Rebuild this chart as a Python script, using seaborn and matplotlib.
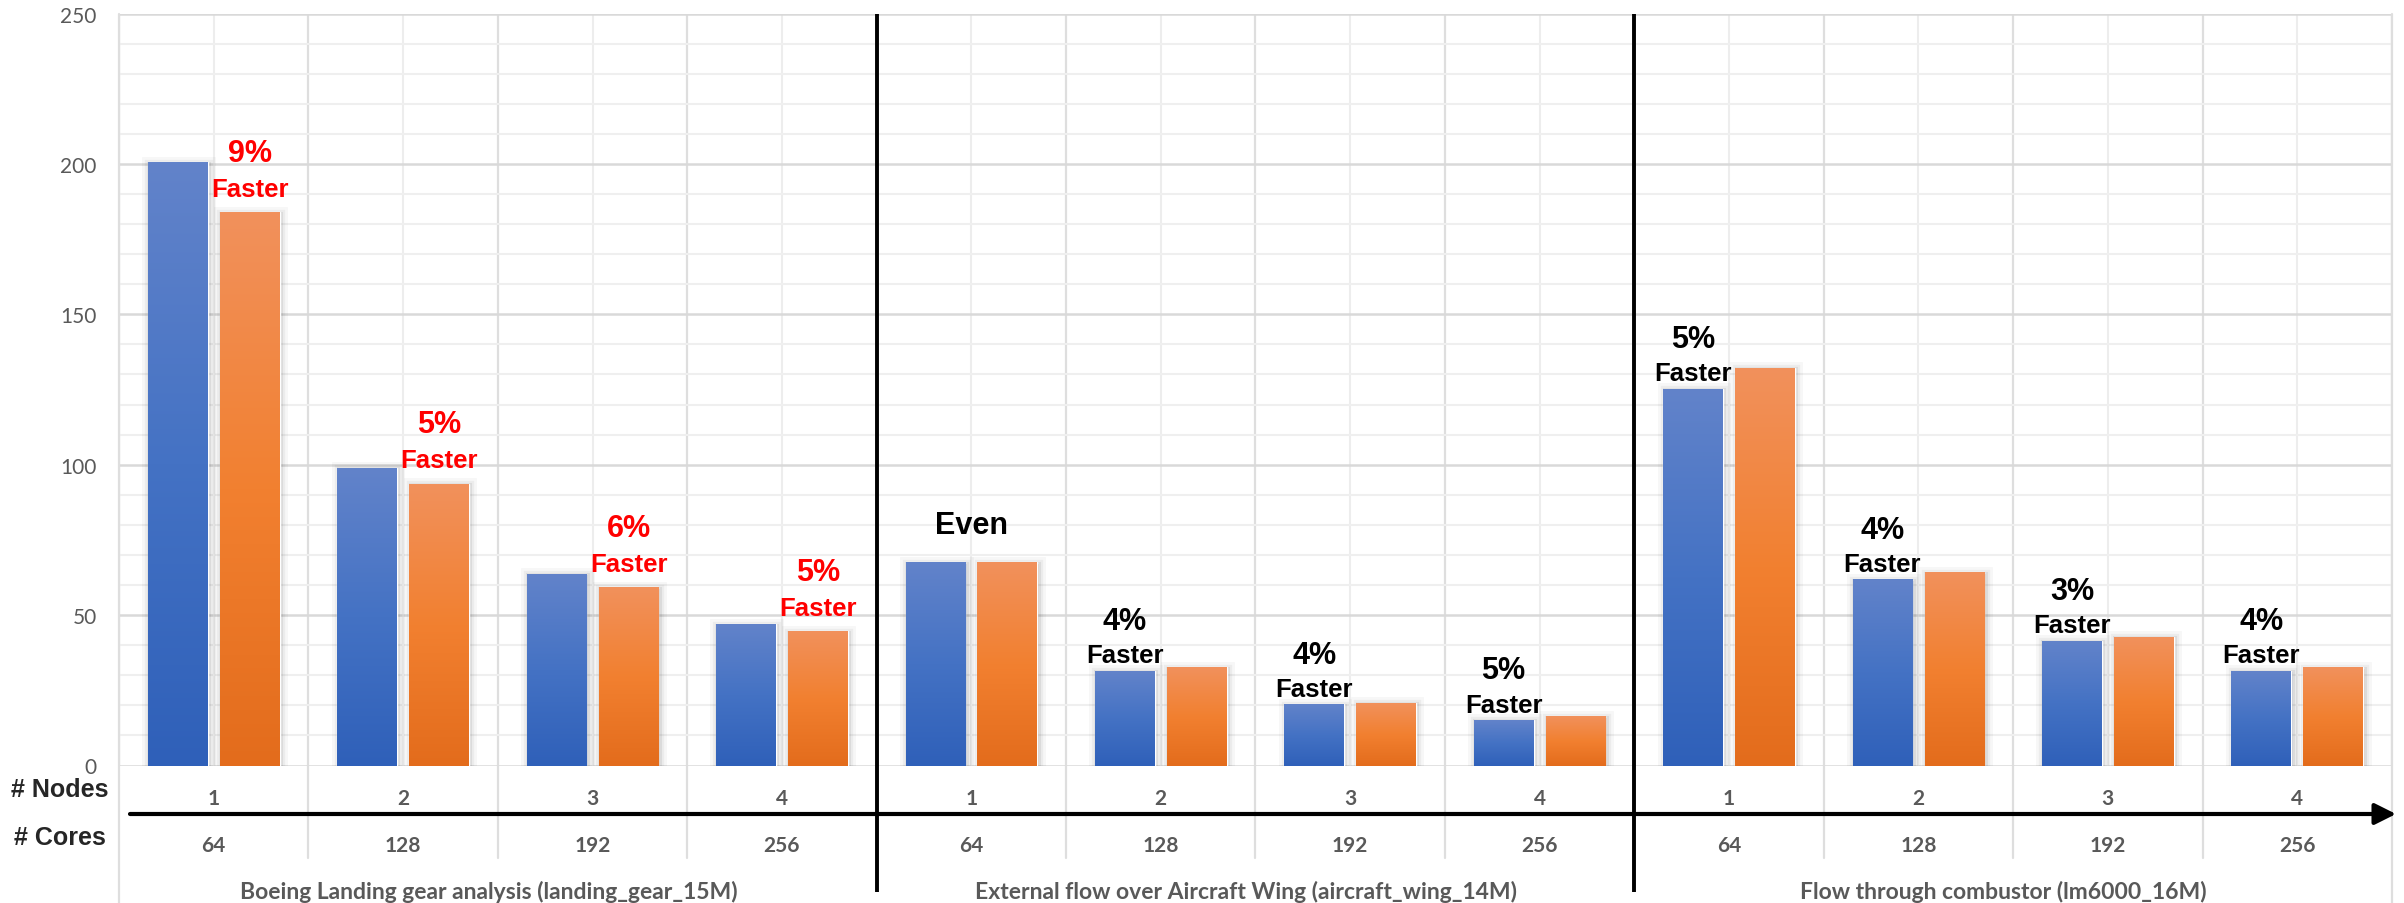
import numpy as np
import pandas as pd
import matplotlib
matplotlib.use("Agg")
import matplotlib.pyplot as plt
import seaborn as sns
from matplotlib import patheffects as pe
from matplotlib.colors import LinearSegmentedColormap
from matplotlib.transforms import blended_transform_factory

# ---- data -------------------------------------------------------------
cases = [
    "Boeing Landing gear analysis (landing_gear_15M)",
    "External flow over Aircraft Wing (aircraft_wing_14M)",
    "Flow through combustor (lm6000_16M)",
]
nodes = ["1", "2", "3", "4"]
cores = ["64", "128", "192", "256"]
series = ["System A", "System B"]
time_a = [200.5, 99.0, 63.8, 46.9, 67.6, 31.5, 20.4, 15.2, 125.3, 61.9, 41.5, 31.5]
time_b = [183.9, 93.6, 59.2, 44.6, 67.6, 32.7, 20.9, 16.3, 132.2, 64.2, 42.8, 32.7]
gain_labels = ["9%", "5%", "6%", "5%", "Even", "4%", "4%", "5%", "5%", "4%", "3%", "4%"]

slots = [f"{c}|{n}" for c in cases for n in nodes]
df = pd.DataFrame({
    "slot": slots * 2,
    "system": [series[0]] * len(slots) + [series[1]] * len(slots),
    "time": time_a + time_b,
})

# ---- style ------------------------------------------------------------
sns.set_style("white")
plt.rcParams["font.family"] = ["Lato", "DejaVu Sans"]
GRAY_TXT = "#595959"
BLUE_STOPS = ["#6283ca", "#4472c4", "#2f60b9"]
ORANGE_STOPS = ["#f1915c", "#f28030", "#e36c1c"]

W, H, DPI = 24.04, 9.04, 100
fig = plt.figure(figsize=(W, H), dpi=DPI)
px_l, px_r, px_top, px_zero = 119, 2392, 14.5, 766.5
ax = fig.add_axes([px_l / 2404, 1 - px_zero / 904,
                   (px_r - px_l) / 2404, (px_zero - px_top) / 904])

sns.barplot(data=df, x="slot", y="time", hue="system", order=slots,
            hue_order=series, palette=[BLUE_STOPS[1], ORANGE_STOPS[1]],
            saturation=1, width=0.76, gap=0.17, errorbar=None,
            legend=False, ax=ax)

n = len(slots)

# gradient fill and soft shadow for every bar
for container, stops in zip(ax.containers, [BLUE_STOPS, ORANGE_STOPS]):
    cmap = LinearSegmentedColormap.from_list("bar", stops)
    for patch in container:
        patch.set_path_effects([pe.Stroke(linewidth=10, foreground="black", alpha=0.03, offset=(1, -1)),
                                pe.Stroke(linewidth=6, foreground="black", alpha=0.045, offset=(1, -1)),
                                pe.Stroke(linewidth=3, foreground="black", alpha=0.07, offset=(1, -1)),
                                pe.Normal()])
        x0, y0 = patch.get_x(), patch.get_y()
        w, h = patch.get_width(), patch.get_height()
        grad = np.linspace(0, 1, 256).reshape(-1, 1)
        im = ax.imshow(grad, cmap=cmap, aspect="auto", origin="upper",
                       extent=(x0, x0 + w, y0, y0 + h),
                       zorder=patch.get_zorder() + 0.1, interpolation="bilinear")
        im.set_clip_path(patch)

ax.set_xlim(-0.5, n - 0.5)
ax.set_ylim(0, 250)
ax.set_aspect("auto")

# ---- grid -------------------------------------------------------------
ax.set_yticks(range(0, 251, 50))
ax.set_yticks(range(0, 251, 10), minor=True)
ax.set_xticks(range(n))
ax.set_xticks(np.arange(-0.5, n, 1), minor=True)
ax.set_xticklabels([])
ax.set_xlabel("")
ax.set_ylabel("")
ax.grid(which="major", axis="y", color="#d9d9d9", lw=1.8)
ax.grid(which="minor", axis="y", color="#efefef", lw=1.5)
ax.grid(which="major", axis="x", color="#ededed", lw=1.5)
ax.grid(which="minor", axis="x", color="#dedede", lw=1.6)
ax.set_axisbelow(True)
ax.tick_params(which="both", length=0)
ax.tick_params(axis="y", labelsize=15, labelcolor=GRAY_TXT, pad=16)
for s in ax.spines.values():
    s.set_visible(False)

bt = blended_transform_factory(ax.transData, ax.transAxes)
frac = lambda px: (px_zero - px) / (px_zero - px_top)

# separators in the label rows
for i in range(1, n):
    if i % 4 == 0:
        continue
    b = i - 0.5
    ax.plot([b, b], [0, frac(859)], transform=bt, color="#dedede", lw=1.6, clip_on=False)
for b in (-0.5, n - 0.5):
    ax.plot([b, b], [1, frac(904)], transform=bt, color="#dedede", lw=1.6, clip_on=False)

# black dividers between the three cases
for g in range(1, len(cases)):
    b = 4 * g - 0.5
    ax.plot([b, b], [1, frac(893)], transform=bt, color="black", lw=2.8,
            clip_on=False, zorder=6, solid_capstyle="butt")

# arrow between the nodes and cores rows
ax.annotate("", xy=((2396 - px_l) / (px_r - px_l), frac(815)),
            xytext=((130 - px_l) / (px_r - px_l), frac(815)),
            xycoords="axes fraction", annotation_clip=False,
            arrowprops=dict(arrowstyle="-|>", lw=3.0, color="black",
                            mutation_scale=32, shrinkA=0, shrinkB=0))

# category labels
for i in range(n):
    ax.text(i, frac(799), nodes[i % 4], transform=bt, ha="center", va="center",
            fontsize=15, fontweight="bold", color=GRAY_TXT)
    ax.text(i, frac(846), cores[i % 4], transform=bt, ha="center", va="center",
            fontsize=15, fontweight="bold", color=GRAY_TXT)
for g, name in enumerate(cases):
    ax.text(4 * g + 1.45, frac(892), name, transform=bt, ha="center", va="center",
            fontsize=16.5, fontweight="bold", color=GRAY_TXT)

fig.text(60 / 2404, 1 - 790 / 904, "# Nodes", ha="center", va="center",
         fontsize=18, fontweight="bold", family="Liberation Sans")
fig.text(60 / 2404, 1 - 838 / 904, "# Cores", ha="center", va="center",
         fontsize=18, fontweight="bold", family="Liberation Sans")

# speed-up annotations above the faster bar of each pair
bars_a, bars_b = ax.containers[0], ax.containers[1]
for i, lab in enumerate(gain_labels):
    pa, pb = bars_a[i], bars_b[i]
    red = i < 4
    color = "#ff0000" if red else "black"
    if lab == "Even":
        y = max(time_a[i], time_b[i])
        ax.annotate(lab, (i, y), xytext=(0, 27), textcoords="offset points",
                    ha="center", va="center", fontsize=22, fontweight="bold",
                    color=color, family="Liberation Sans", zorder=7)
        continue
    fast = pb if time_b[i] < time_a[i] else pa
    y = min(time_a[i], time_b[i])
    x = fast.get_x() + fast.get_width() / 2
    off_pct, off_fast = (43, 17) if red else (35.5, 11)
    ax.annotate(lab, (x, y), xytext=(0, off_pct), textcoords="offset points",
                ha="center", va="center", fontsize=22, fontweight="bold",
                color=color, family="Liberation Sans", zorder=7)
    ax.annotate("Faster", (x, y), xytext=(0, off_fast), textcoords="offset points",
                ha="center", va="center", fontsize=18.5, fontweight="bold",
                color=color, family="Liberation Sans", zorder=7)

fig.savefig("out.png", dpi=DPI)
